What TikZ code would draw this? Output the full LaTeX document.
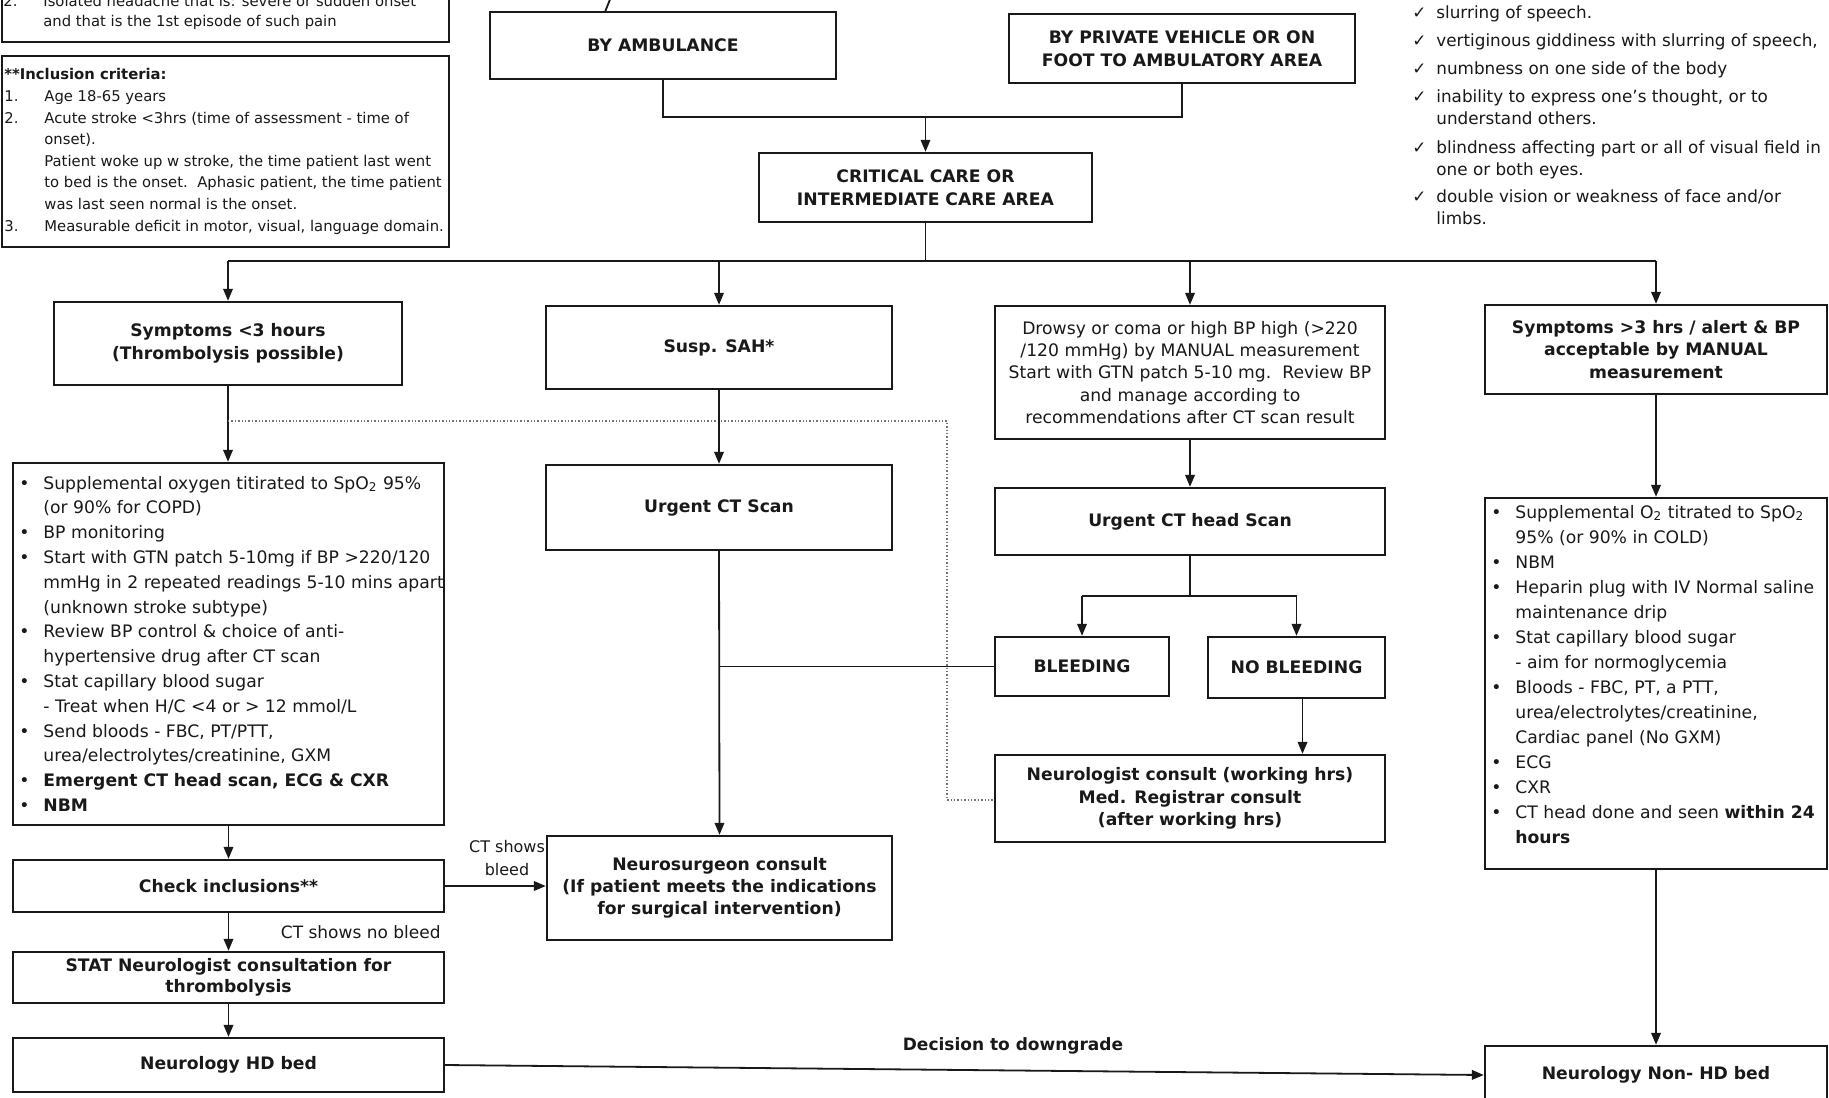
\documentclass[tikz,border=0pt]{standalone}
\usepackage{fontspec}
\setmainfont{DejaVu Sans}
\usetikzlibrary{arrows.meta}
\newcommand\fsz[2]{\fontsize{#1}{#2}\selectfont}
\begin{document}
\begin{tikzpicture}[x=0.5pt,y=-0.5pt,
  sz/.style 2 args={minimum width=#1*0.5pt, minimum height=#2*0.5pt},
  box/.style={draw=black!90, line width=1.2pt, inner sep=0pt, align=center,
              font=\fsz{8.6}{11.4}\bfseries, text=black!90},
  txt/.style={anchor=base west, inner sep=0pt, text=black!90},
  ln/.style={draw=black!90, line width=0.9pt},
  arr/.style={ln, -{Triangle[length=6pt,width=4.8pt]}},
  dotln/.style={draw=black!55, line width=0.7pt, densely dotted}]
\useasboundingbox (0,0) rectangle (1829,1097);
\fill[white] (0,0) rectangle (1829,1097);

% ---------- coordinates for joints ----------
\coordinate (j1) at (925.5,117);
\coordinate (j2) at (925.5,261);
\coordinate (j3) at (1190,596);
\coordinate (d1) at (947,421);
\coordinate (d2) at (947,800);
\coordinate (t1) at (613,-8);
\coordinate (t2) at (605,12);

% ---------- top left boxes ----------
\node[box, sz={447}{110}] (topbox) at (225.5,-13) {};
\node[txt, font=\fsz{7.4}{10}] (toptxt) at (3,7) {\begin{tabular}[t]{@{}l@{}l@{}}
\makebox[20pt][l]{2.} & Isolated headache that is: severe or sudden onset\\
 & and that is the 1st episode of such pain
\end{tabular}};

\node[box, sz={447}{191}] (incl) at (225.5,151.5) {};
\node[txt, font=\fsz{7.4}{10.8}] (incltxt) at (4,80) {\begin{tabular}[t]{@{}l@{}l@{}}
\multicolumn{2}{@{}l@{}}{\bfseries **Inclusion criteria:}\\
\makebox[20pt][l]{1.} & Age 18-65 years\\
2. & Acute stroke <3hrs (time of assessment - time of\\
 & onset).\\
 & Patient woke up w stroke, the time patient last went\\
 & to bed is the onset.\ \ Aphasic patient, the time patient\\
 & was last seen normal is the onset.\\
3. & Measurable deficit in motor, visual, language domain.
\end{tabular}};

% ---------- top right check list ----------
\node[txt, font=\fsz{8.4}{11}] (checks) at (1412,19) {\begin{tabular}[t]{@{}l@{}l@{}}
\makebox[12pt][l]{✓} & slurring of speech.\\[3pt]
✓ & vertiginous giddiness with slurring of speech,\\[3pt]
✓ & numbness on one side of the body\\[3pt]
✓ & inability to express one’s thought, or to\\
 & understand others.\\[3pt]
✓ & blindness affecting part or all of visual field in\\
 & one or both eyes.\\[3pt]
✓ & double vision or weakness of face and/or\\
 & limbs.
\end{tabular}};

% ---------- main boxes ----------
\node[box, sz={346}{67}] (amb) at (663,45.5) {BY AMBULANCE};
\node[box, sz={346}{69}] (priv) at (1182,48.5) {BY PRIVATE VEHICLE OR ON\\FOOT TO AMBULATORY AREA};
\node[box, sz={333}{69}] (crit) at (925.5,187.5) {CRITICAL CARE OR\\INTERMEDIATE CARE AREA};

\node[box, sz={348}{83}] (sym3) at (228,343.5) {Symptoms <3 hours\\(Thrombolysis possible)};
\node[box, sz={346}{83}] (sah) at (719,347.5) {Susp. SAH*};
\node[box, sz={390}{133}, font=\fsz{8.6}{11.1}] (drowsy) at (1190,372.5)
  {Drowsy or coma or high BP high (>220\\/120 mmHg) by MANUAL measurement\\Start with GTN patch 5-10 mg.\ \ Review BP\\and manage according to\\recommendations after CT scan result};
\node[box, sz={342}{89}] (sym3r) at (1656,349.5) {Symptoms >3 hrs / alert \& BP\\acceptable by MANUAL\\measurement};

\node[box, sz={346}{85}] (ctscan) at (719,507.5) {Urgent CT Scan};
\node[box, sz={390}{67}] (cthead) at (1190,521.5) {Urgent CT head Scan};
\node[box, sz={174}{59}] (bleed) at (1082,666.5) {BLEEDING};
\node[box, sz={177}{61}] (nobleed) at (1296.5,667.5) {NO BLEEDING};
\node[box, sz={390}{87}] (neuro) at (1190,798.5) {Neurologist consult (working hrs)\\Med. Registrar consult\\(after working hrs)};
\node[box, sz={345}{104}, font=\fsz{8.6}{11.1}\bfseries] (nsurg) at (719.5,888) {Neurosurgeon consult\\(If patient meets the indications\\for surgical intervention)};

% left column
\node[box, sz={431}{362}] (bulL) at (228.5,644) {};
\node[txt, font=\fsz{8.6}{12.4}] (bulLtxt) at (19,489) {\begin{tabular}[t]{@{}l@{}l@{}}
\makebox[12pt][l]{•} & Supplemental oxygen titirated to SpO\textsubscript{2} 95\%\\
 & (or 90\% for COPD)\\
• & BP monitoring\\
• & Start with GTN patch 5-10mg if BP >220/120\\
 & mmHg in 2 repeated readings 5-10 mins apart\\
 & (unknown stroke subtype)\\
• & Review BP control \& choice of anti-\\
 & hypertensive drug after CT scan\\
• & Stat capillary blood sugar\\
 & - Treat when H/C <4 or > 12 mmol/L\\
• & Send bloods - FBC, PT/PTT,\\
 & urea/electrolytes/creatinine, GXM\\
• & \bfseries Emergent CT head scan, ECG \& CXR\\
• & \bfseries NBM
\end{tabular}};
\node[box, sz={431}{52}] (check) at (228.5,886) {Check inclusions**};
\node[box, sz={431}{51}, font=\fsz{8.6}{10.5}\bfseries] (stat) at (228.5,977.5) {STAT Neurologist consultation for\\thrombolysis};
\node[box, sz={431}{54}] (hd) at (228.5,1065) {Neurology HD bed};

% right column
\node[box, sz={342}{371}] (bulR) at (1656,683.5) {};
\node[txt, font=\fsz{8.6}{12.5}] (bulRtxt) at (1491,518) {\begin{tabular}[t]{@{}l@{}l@{}}
\makebox[12pt][l]{•} & Supplemental O\textsubscript{2} titrated to SpO\textsubscript{2}\\
 & 95\% (or 90\% in COLD)\\
• & NBM\\
• & Heparin plug with IV Normal saline\\
 & maintenance drip\\
• & Stat capillary blood sugar\\
 & - aim for normoglycemia\\
• & Bloods - FBC, PT, a PTT,\\
 & urea/electrolytes/creatinine,\\
 & Cardiac panel (No GXM)\\
• & ECG\\
• & CXR\\
• & CT head done and seen \textbf{within 24}\\
 & \textbf{hours}
\end{tabular}};
\node[box, sz={342}{58}] (nonhd) at (1656,1075) {Neurology Non- HD bed};

% ---------- labels ----------
\node[inner sep=0pt, align=center, text=black!90, font=\fsz{8}{11.4}] (lbleed) at (507,858) {CT shows\\bleed};
\node[anchor=base east, inner sep=0pt, text=black!90, font=\fsz{8.5}{10}] (lnobleed) at (441,938) {CT shows no bleed};
\node[anchor=base, inner sep=0pt, text=black!90, font=\fsz{8.5}{10}\bfseries] (ldown) at (1013,1050) {Decision to downgrade};

% ---------- connectors ----------
\draw[ln] (t1) -- (t2);
\draw[ln] (amb.south) -- (amb.south |- j1) -- (priv.south |- j1) -- (priv.south);
\draw[arr] (j1) -- (crit.north);
\draw[ln] (crit.south) -- (j2);
\draw[ln] (sym3.north |- j2) -- (sym3r.north |- j2);
\draw[arr] (sym3.north |- j2) -- (sym3.north);
\draw[arr] (sah.north |- j2) -- (sah.north);
\draw[arr] (drowsy.north |- j2) -- (drowsy.north);
\draw[arr] (sym3r.north |- j2) -- (sym3r.north);

\draw[arr] (sym3.south) -- (sym3.south |- bulL.north);
\draw[dotln] (sym3.south |- d1) -- (d1) -- (d2) -- (d2 -| neuro.west);
\draw[arr] (bulL.south) -- (check.north);
\draw[arr] (check.south) -- (stat.north);
\draw[arr] (stat.south) -- (hd.north);
\draw[arr] (check.east) -- (check.east -| nsurg.west);
\draw[arr] (hd.east) -- (nonhd.west);

\draw[arr] (sah.south) -- (ctscan.north);
\draw[arr] (ctscan.south) -- (nsurg.north);
\draw[ln] (bleed.west) -- (bleed.west -| ctscan.south);

\draw[arr] (drowsy.south) -- (cthead.north);
\draw[ln] (cthead.south) -- (j3);
\draw[ln] (j3 -| bleed.north) -- (j3 -| nobleed.north);
\draw[arr] (j3 -| bleed.north) -- (bleed.north);
\draw[arr] (j3 -| nobleed.north) -- (nobleed.north);
\draw[arr] ([xshift=3pt]nobleed.south) -- ([xshift=3pt]nobleed.south |- neuro.north);

\draw[arr] (sym3r.south) -- (bulR.north);
\draw[arr] (bulR.south) -- (nonhd.north);
\end{tikzpicture}
\end{document}
